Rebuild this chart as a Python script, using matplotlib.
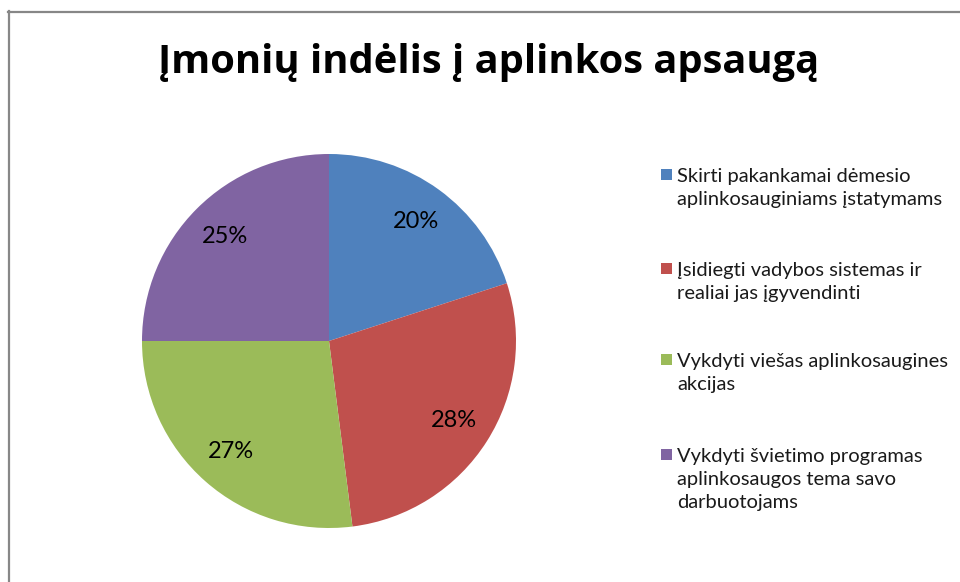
import matplotlib
matplotlib.use("Agg")
import matplotlib.pyplot as plt
from matplotlib.patches import Rectangle
from matplotlib.lines import Line2D

plt.rcParams['font.family'] = ['Lato', 'DejaVu Sans']

# duomenys
labels = [
    "Skirti pakankamai dėmesio\naplinkosauginiams įstatymams",
    "Įsidiegti vadybos sistemas ir\nrealiai jas įgyvendinti",
    "Vykdyti viešas aplinkosaugines\nakcijas",
    "Vykdyti švietimo programas\naplinkosaugos tema savo\ndarbuotojams",
]
shares = [20, 28, 27, 25]
colors = ['#4F81BD', '#C0504D', '#9BBB59', '#8064A2']
title = "Įmonių indėlis į aplinkos apsaugą"

W, H = 960, 582
fig = plt.figure(figsize=(W / 100, H / 100), dpi=100)

# pyrago ašys: centras (329, 341), spindulys 187 px
cx, cy, r = 329, 341, 187
ax = fig.add_axes([(cx - r) / W, (H - cy - r) / H, 2 * r / W, 2 * r / H])
wedges, texts, autotexts = ax.pie(
    shares, colors=colors, startangle=90, counterclock=False,
    autopct='%d%%', pctdistance=0.79,
    wedgeprops=dict(linewidth=0),
    textprops=dict(fontsize=17, color='black'))
ax.set_xlim(-1, 1)
ax.set_ylim(-1, 1)
ax.set_aspect('equal')

# antraštė
fig.text(488.5 / W, 1 - 73 / H, title, ha='center', va='baseline',
         fontsize=28.7, fontweight='bold', family=['Open Sans', 'DejaVu Sans'])

# legenda
baselines = [182, 276, 367, 462]
for lab, col, y0 in zip(labels, colors, baselines):
    fig.patches.append(Rectangle((661 / W, 1 - (y0 - 2) / H), 11 / W, 11 / H,
                                 transform=fig.transFigure, facecolor=col,
                                 edgecolor='none'))
    for i, line in enumerate(lab.split('\n')):
        fig.text(677 / W, 1 - (y0 + 23 * i) / H, line, ha='left',
                 va='baseline', fontsize=14.5, color='#1a1a1a')

# rėmelis
fig.add_artist(Line2D([8.5 / W, 8.5 / W], [0, 1 - 11 / H],
                      transform=fig.transFigure, color='#878787', linewidth=1.6))
fig.add_artist(Line2D([8 / W, 1], [1 - 11.5 / H, 1 - 11.5 / H],
                      transform=fig.transFigure, color='#878787', linewidth=1.6))

fig.savefig('out.png', dpi=100)
